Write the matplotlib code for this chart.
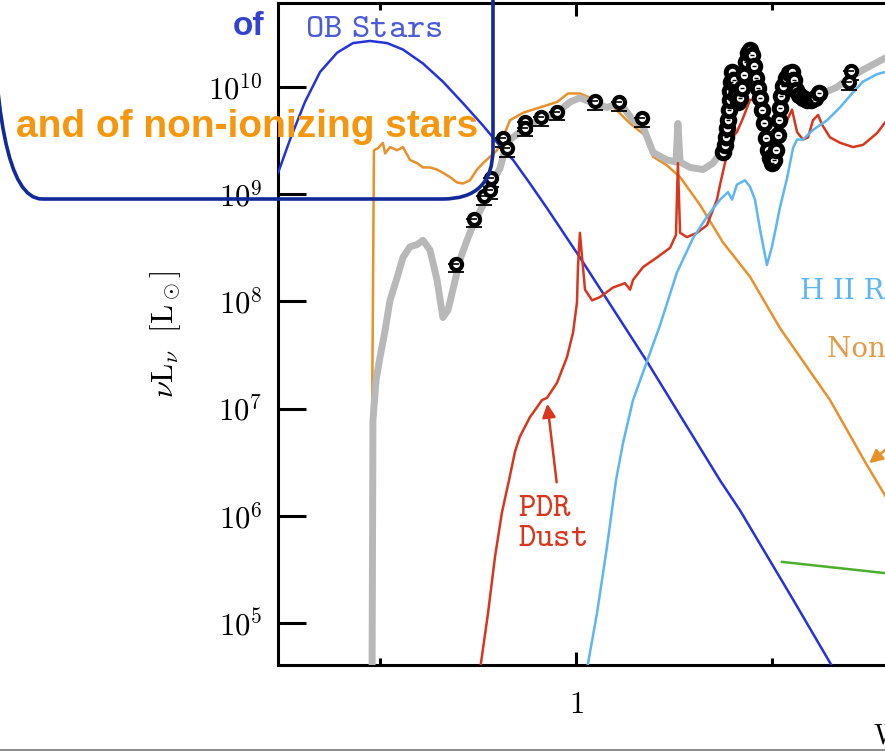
import numpy as np
import matplotlib.pyplot as plt
from matplotlib.patches import FancyBboxPatch
from matplotlib.lines import Line2D
from matplotlib.transforms import IdentityTransform
from matplotlib.ticker import FixedLocator, NullLocator, NullFormatter, FuncFormatter

plt.rcParams['mathtext.fontset'] = 'cm'
plt.rcParams['font.family'] = 'serif'
plt.rcParams['font.serif'] = ['DejaVu Serif']

# all values are log10(wavelength / micron) and log10(nu L_nu / L_sun)
ob_wav = [-1.520, -1.459, -1.383, -1.306, -1.219, -1.138, -1.051, -0.964, -0.883, -0.781,
          -0.679, -0.577, -0.474, -0.388, -0.321, -0.235, -0.148, 0.020, 0.362, 0.735,
          0.837, 1.107, 1.347]
ob_lum = [9.20, 9.51, 9.86, 10.14, 10.32, 10.41, 10.43, 10.41, 10.35, 10.22,
          10.05, 9.85, 9.64, 9.45, 9.32, 9.10, 8.87, 8.41, 7.44, 6.33,
          6.05, 5.22, 4.47]

old_wav = [-1.041, -1.036, -1.031, -1.010, -0.985, -0.974, -0.949, -0.913, -0.883, -0.847,
           -0.811, -0.781, -0.745, -0.709, -0.679, -0.643, -0.607, -0.577, -0.541, -0.505,
           -0.474, -0.439, -0.403, -0.372, -0.337, -0.270, -0.184, -0.097, -0.041, 0.020,
           0.071, 0.138, 0.199, 0.276, 0.352, 0.393, 0.464, 0.531, 0.633, 0.750,
           0.888, 1.041, 1.296, 1.485, 1.577, 1.755]
old_lum = [6.80, 8.01, 9.41, 9.43, 9.48, 9.38, 9.44, 9.41, 9.44, 9.32,
           9.29, 9.25, 9.25, 9.23, 9.20, 9.16, 9.11, 9.10, 9.13, 9.23,
           9.29, 9.35, 9.41, 9.53, 9.69, 9.76, 9.81, 9.86, 9.94, 9.94,
           9.90, 9.84, 9.80, 9.66, 9.55, 9.35, 9.27, 9.16, 8.90, 8.55,
           8.23, 7.75, 7.08, 6.47, 6.19, 5.68]

tot_wav = [-1.041, -1.036, -1.020, -1.000, -0.974, -0.949, -0.913, -0.883, -0.847, -0.811,
           -0.781, -0.745, -0.709, -0.679, -0.653, -0.628, -0.592, -0.556, -0.526, -0.474,
           -0.423, -0.388, -0.372, -0.337, -0.270, -0.199, -0.097, -0.031, 0.020, 0.087,
           0.158, 0.224, 0.291, 0.342, 0.393, 0.464, 0.510, 0.520, 0.531, 0.582,
           0.648, 0.699, 0.745, 0.776, 0.811, 0.847, 0.888, 0.923, 0.954, 0.990,
           1.026, 1.066, 1.107, 1.143, 1.194, 1.230, 1.260, 1.332, 1.398, 1.464,
           1.577, 1.755]
tot_lum = [4.28, 6.89, 7.27, 7.48, 7.73, 8.01, 8.22, 8.41, 8.51, 8.53,
           8.57, 8.48, 8.20, 7.85, 7.92, 8.11, 8.39, 8.57, 8.71, 8.90,
           9.13, 9.24, 9.35, 9.51, 9.60, 9.69, 9.76, 9.86, 9.90, 9.85,
           9.81, 9.85, 9.69, 9.63, 9.39, 9.32, 9.30, 9.66, 9.30, 9.25,
           9.23, 9.29, 9.41, 9.69, 9.97, 10.16, 10.30, 10.07, 9.79, 9.37,
           9.60, 9.97, 10.11, 9.93, 9.88, 9.91, 9.94, 10.00, 10.09, 10.16,
           10.27, 10.39]

pdr_wav = [-0.490, -0.449, -0.413, -0.378, -0.342, -0.311, -0.286, -0.235, -0.173, -0.148,
           -0.097, -0.046, -0.015, 0.005, 0.010, 0.020, 0.031, 0.046, 0.082, 0.122,
           0.189, 0.250, 0.276, 0.291, 0.342, 0.413, 0.480, 0.510, 0.520, 0.531,
           0.566, 0.617, 0.668, 0.719, 0.735, 0.750, 0.770, 0.786, 0.821, 0.852,
           0.888, 0.913, 0.939, 0.990, 1.041, 1.077, 1.102, 1.128, 1.158, 1.184,
           1.209, 1.235, 1.255, 1.296, 1.347, 1.413, 1.464, 1.536, 1.577, 1.704]
pdr_lum = [4.56, 5.09, 5.62, 6.03, 6.33, 6.60, 6.74, 6.92, 7.08, 7.10,
           7.24, 7.48, 7.71, 7.99, 8.32, 8.64, 8.41, 8.11, 8.01, 8.04,
           8.13, 8.17, 8.11, 8.20, 8.32, 8.41, 8.50, 8.62, 9.29, 8.64,
           8.60, 8.64, 8.71, 8.95, 9.09, 9.21, 9.37, 9.51, 9.58, 9.71,
           9.88, 9.88, 9.77, 9.55, 9.65, 9.69, 9.79, 9.58, 9.51, 9.53,
           9.69, 9.74, 9.65, 9.53, 9.48, 9.44, 9.46, 9.57, 9.67, 9.93]

hii_wav = [0.046, 0.061, 0.107, 0.158, 0.204, 0.240, 0.291, 0.362, 0.429, 0.515,
           0.597, 0.668, 0.735, 0.776, 0.796, 0.821, 0.862, 0.888, 0.913, 0.939,
           0.974, 1.000, 1.041, 1.077, 1.107, 1.128, 1.158, 1.209, 1.281, 1.347,
           1.413, 1.464, 1.536, 1.577, 1.704]
hii_lum = [4.47, 4.62, 5.09, 5.71, 6.33, 6.68, 7.08, 7.44, 7.78, 8.27,
           8.59, 8.79, 8.95, 9.02, 8.95, 9.09, 9.13, 9.07, 8.95, 8.67,
           8.34, 8.51, 8.88, 9.15, 9.43, 9.51, 9.51, 9.60, 9.69, 9.81,
           9.95, 10.05, 10.12, 10.14, 10.21]

radio_wav = [1.051, 1.755]
radio_lum = [5.57, 5.43]

# broadband photometry
phot_wav = [-0.612, -0.520, -0.469, -0.439, -0.434, -0.372, -0.352, -0.260, -0.260, -0.179,
            -0.097, 0.097, 0.219, 0.337, 1.393, 1.403]
phot_lum = [8.35, 8.77, 8.98, 9.04, 9.15, 9.52, 9.43, 9.67, 9.62, 9.72,
            9.77, 9.87, 9.86, 9.71, 10.05, 10.15]

# mid-IR spectrum
irs_wav = [0.750, 0.760, 0.765, 0.770, 0.776, 0.781, 0.786, 0.788, 0.791, 0.796,
           0.806, 0.816, 0.827, 0.837, 0.847, 0.857, 0.867, 0.878, 0.888, 0.898,
           0.908, 0.918, 0.929, 0.939, 0.949, 0.959, 0.969, 0.980, 0.990, 1.000,
           1.010, 1.020, 1.031, 1.036, 1.041, 1.046, 1.056, 1.071, 1.087, 1.102,
           1.112, 1.122, 1.138, 1.158, 1.179, 1.199, 1.219, 1.240]
irs_lum = [9.39, 9.46, 9.53, 9.62, 9.69, 9.79, 9.88, 9.96, 10.05, 10.14,
           10.07, 9.93, 9.86, 9.90, 9.99, 10.11, 10.23, 10.32, 10.35, 10.30,
           10.20, 10.08, 9.99, 9.90, 9.79, 9.66, 9.52, 9.41, 9.34, 9.29,
           9.32, 9.41, 9.55, 9.69, 9.80, 9.92, 10.01, 10.08, 10.13, 10.14,
           10.07, 9.97, 9.93, 9.90, 9.88, 9.88, 9.90, 9.94]


def lin(v):
    return 10 ** np.asarray(v, dtype=float)


fig = plt.figure(figsize=(8.85, 7.51), dpi=100)
ax = fig.add_axes([278 / 885, 86 / 751, 886 / 885, 662 / 751])
ax.set_xscale('log')
ax.set_yscale('log')
ax.set_xlim(10 ** -1.5204, 1000)
ax.set_ylim(10 ** 4.608, 10 ** 10.784)

c_ob = '#2632d9'
c_old = '#e8912c'
c_pdr = '#d8361d'
c_hii = '#5cb6f2'

ax.plot(lin(old_wav), lin(old_lum), color=c_old, lw=1.8, zorder=2)
ax.plot(lin(tot_wav), lin(tot_lum), color='#b8b8b8', lw=5, zorder=3,
        solid_joinstyle='round', solid_capstyle='butt')
ax.plot(lin(ob_wav), lin(ob_lum), color=c_ob, lw=1.8, zorder=4)
ax.plot(lin(pdr_wav), lin(pdr_lum), color=c_pdr, lw=1.8, zorder=4)
ax.plot(lin(hii_wav), lin(hii_lum), color=c_hii, lw=1.8, zorder=4)
ax.plot(lin(radio_wav), lin(radio_lum), color='#4bae2c', lw=1.8, zorder=4)

pw, pl = lin(phot_wav), lin(phot_lum)
ax.errorbar(pw, pl, yerr=[pl - pl * 10 ** -0.08, np.zeros_like(pl)], fmt='none',
            ecolor='black', elinewidth=1.3, capsize=6, capthick=1.3, zorder=5)
ax.plot(pw, pl, 'o', ms=8, mfc='white', mec='black', mew=3, zorder=6)
ax.plot(pw, pl, '_', ms=4, mec='black', mew=1.2, zorder=7)
iw, il = lin(irs_wav), lin(irs_lum)
ax.plot(iw, il, 'o', ms=9, mfc='white', mec='black', mew=3.6, zorder=6)
ax.plot(iw, il, '_', ms=3, mec='black', mew=1.0, zorder=7)

# component labels
ax.text(10 ** -1.383, 10 ** 10.56, r'$\mathtt{OB\ Stars}$', color='#4a5ad8',
        fontsize=25, ha='left', va='center')
ax.text(10 ** -0.296, 10 ** 6.082, r'$\mathtt{PDR}$', color=c_pdr,
        fontsize=24, ha='left', va='center')
ax.text(10 ** -0.296, 10 ** 5.802, r'$\mathtt{Dust}$', color=c_pdr,
        fontsize=24, ha='left', va='center')
ax.text(10 ** 1.143, 10 ** 8.088, 'H II Region', color=c_hii,
        fontsize=20, ha='left', va='center')
ax.text(10 ** 1.281, 10 ** 7.547, 'Non-ionizing Stars', color='#e39a45',
        fontsize=20, ha='left', va='center')

ax.annotate('', xy=(10 ** -0.148, 10 ** 7.071), xytext=(10 ** -0.097, 10 ** 6.287),
            arrowprops=dict(arrowstyle='-|>', color=c_pdr, lw=1.8, mutation_scale=20),
            zorder=4)
ax.annotate('', xy=(10 ** 1.485, 10 ** 6.474), xytext=(10 ** 1.70, 10 ** 6.80),
            arrowprops=dict(arrowstyle='-|>', color=c_old, lw=1.8, mutation_scale=20),
            annotation_clip=False, zorder=4)

# axes styling
for side in ['left', 'bottom', 'top']:
    ax.spines[side].set_linewidth(2.2)
ax.spines['right'].set_visible(False)
ax.xaxis.set_major_locator(FixedLocator([1]))
ax.xaxis.set_minor_locator(FixedLocator([0.1, 10, 100]))
ax.xaxis.set_major_formatter(FuncFormatter(lambda v, p: r'$1$'))
ax.xaxis.set_minor_formatter(NullFormatter())
ax.yaxis.set_major_locator(FixedLocator([1e5, 1e6, 1e7, 1e8, 1e9, 1e10]))
ax.yaxis.set_minor_locator(NullLocator())
ax.yaxis.set_major_formatter(FuncFormatter(lambda v, p: r'$10^{%d}$' % round(np.log10(v))))
ax.tick_params(which='both', direction='in', top=True, right=False, width=2.2, colors='black')
ax.tick_params(axis='x', which='major', length=9.5, pad=17, labelsize=22)
ax.tick_params(axis='x', which='minor', length=5)
ax.tick_params(axis='y', which='major', length=20, pad=11, labelsize=22)

fig.text(166 / 885, 1 - 334 / 751, r'$\nu\mathrm{L}_\nu\ \ [\mathrm{L}_\odot]$',
         rotation=90, ha='center', va='center', fontsize=22)
fig.text(873 / 885, 1 - 737 / 751, r'$\mathrm{Wavelength}\ [\mu\mathrm{m}]$',
         ha='left', va='center', fontsize=20)

# highlight box (pixel units) and captions on top of the plot
box = FancyBboxPatch((-8, 751 - 199), 501, 300, boxstyle='round,pad=0,rounding_size=50',
                     transform=IdentityTransform(), fill=False, ec='#12299a', lw=2.6,
                     zorder=10)
fig.add_artist(box)
fig.text(264 / 885, 1 - 35 / 751, 'of', color='#3443cf', fontsize=24, fontweight='bold',
         family=['Liberation Sans', 'DejaVu Sans'], ha='right', va='baseline', zorder=11)
fig.text(16 / 885, 1 - 137 / 751, 'and of non-ionizing stars', color='#f5960f', fontsize=28,
         fontweight='bold', family=['Liberation Sans', 'DejaVu Sans'],
         ha='left', va='baseline', zorder=11)
fig.add_artist(Line2D([0, 1], [1.5 / 751, 1.5 / 751], transform=fig.transFigure,
                      color='#8e8e8e', lw=2.2))

fig.savefig('out.png', dpi=100)
